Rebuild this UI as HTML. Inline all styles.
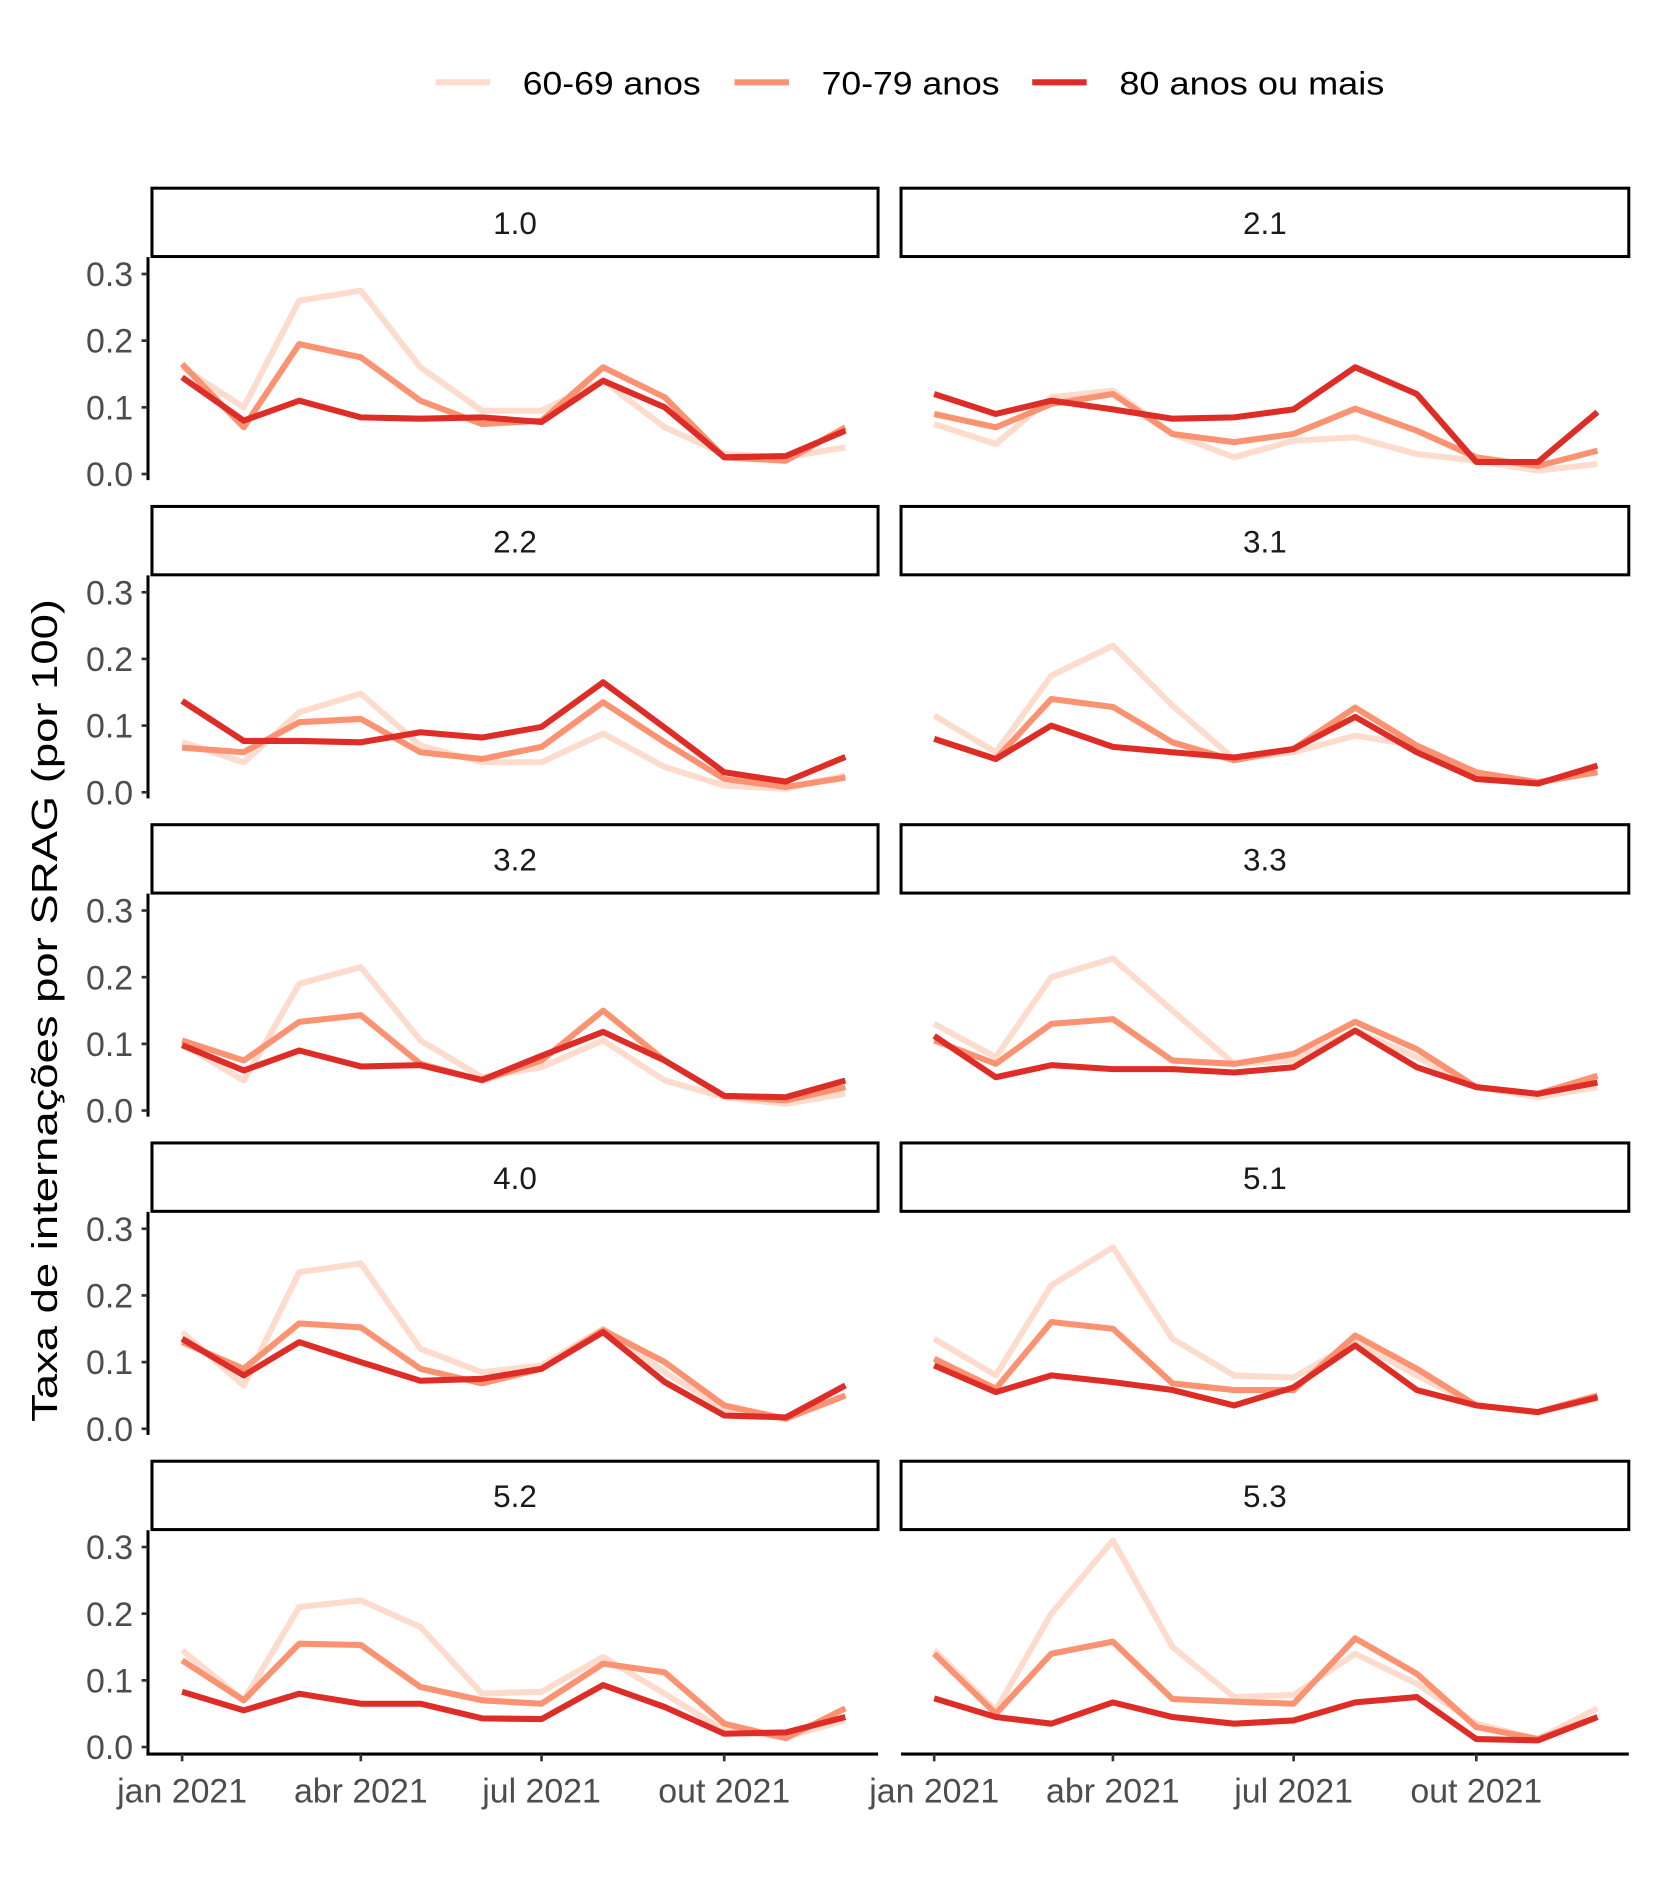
<!DOCTYPE html>
<html><head><meta charset="utf-8"><style>
html,body{margin:0;padding:0;background:#fff}
svg{display:block}
text{font-family:"Liberation Sans",sans-serif}
</style></head><body>
<svg id="chart" width="1653" height="1889" viewBox="0 0 1366 1561" xmlns="http://www.w3.org/2000/svg">
<g>
 <line x1="360" y1="68" x2="405" y2="68" stroke="#fddccd" stroke-width="5"/>
 <text x="432" y="78" font-size="27" textLength="147" lengthAdjust="spacingAndGlyphs" fill="#000">60-69 anos</text>
 <line x1="607" y1="68" x2="652" y2="68" stroke="#fb9272" stroke-width="5"/>
 <text x="679" y="78" font-size="27" textLength="147" lengthAdjust="spacingAndGlyphs" fill="#000">70-79 anos</text>
 <line x1="853" y1="68" x2="898" y2="68" stroke="#de2d26" stroke-width="5"/>
 <text x="925" y="78" font-size="27" textLength="219" lengthAdjust="spacingAndGlyphs" fill="#000">80 anos ou mais</text>
</g>
<text transform="translate(47,835) rotate(-90)" text-anchor="middle" font-size="30" textLength="680" lengthAdjust="spacingAndGlyphs" fill="#000">Taxa de internações por SRAG (por 100)</text>
<g id="panels"></g>
</svg>
<script>
const panelNames=["1.0","2.1","2.2","3.1","3.2","3.3","4.0","5.1","5.2","5.3"];
const monthDays=[0,31,59,90,120,151,181,212,243,273,304,334];
const yTicks=[0,0.1,0.2,0.3];
const yTickLabels=["0.0","0.1","0.2","0.3"];
const xTickDays=[0,90,181,273];
const xTickLabels=["jan 2021","abr 2021","jul 2021","out 2021"];
const seriesNames=["60-69 anos","70-79 anos","80 anos ou mais"];
const s6069=[
[.16,.10,.26,.275,.16,.095,.095,.14,.07,.03,.025,.04],
[.075,.045,.115,.125,.06,.025,.05,.055,.03,.02,.005,.015],
[.075,.045,.12,.148,.07,.045,.045,.088,.038,.01,.005,.025],
[.115,.06,.175,.22,.13,.05,.06,.085,.07,.025,.015,.03],
[.10,.045,.19,.215,.105,.05,.065,.105,.045,.02,.01,.025],
[.13,.08,.20,.228,.15,.07,.075,.12,.08,.035,.02,.035],
[.145,.065,.235,.248,.12,.085,.095,.15,.085,.03,.015,.05],
[.135,.08,.215,.272,.135,.08,.077,.13,.08,.035,.025,.045],
[.145,.07,.21,.22,.18,.08,.083,.135,.08,.025,.015,.04],
[.145,.055,.20,.31,.15,.075,.078,.14,.095,.035,.012,.058]];
const s7079=[
[.165,.07,.195,.175,.11,.075,.08,.16,.115,.025,.02,.07],
[.09,.07,.105,.12,.06,.048,.06,.098,.065,.025,.012,.035],
[.067,.06,.105,.11,.06,.05,.068,.135,.075,.02,.008,.022],
[.08,.05,.14,.128,.075,.048,.065,.127,.07,.03,.015,.03],
[.105,.075,.133,.143,.07,.045,.075,.15,.075,.022,.015,.035],
[.105,.07,.13,.137,.075,.07,.085,.133,.092,.035,.025,.052],
[.13,.09,.158,.152,.09,.068,.09,.148,.10,.035,.015,.05],
[.105,.06,.16,.15,.068,.058,.058,.14,.09,.035,.025,.05],
[.13,.07,.155,.153,.09,.07,.065,.125,.112,.035,.013,.058],
[.14,.05,.14,.158,.072,.068,.065,.163,.11,.03,.012,.045]];
const s80=[
[.145,.08,.11,.085,.083,.085,.078,.14,.10,.025,.027,.065],
[.12,.09,.11,.097,.083,.085,.097,.16,.12,.018,.018,.093],
[.137,.077,.077,.075,.09,.082,.098,.165,.097,.03,.016,.053],
[.08,.05,.10,.068,.06,.052,.065,.113,.06,.02,.013,.04],
[.098,.06,.09,.066,.068,.046,.082,.118,.075,.022,.02,.045],
[.112,.05,.068,.062,.062,.057,.065,.12,.065,.035,.025,.042],
[.135,.08,.13,.10,.072,.075,.09,.145,.07,.02,.017,.065],
[.095,.055,.08,.07,.058,.035,.062,.125,.058,.035,.025,.047],
[.083,.055,.08,.065,.065,.043,.042,.093,.06,.02,.022,.045],
[.073,.045,.035,.067,.045,.035,.04,.067,.075,.012,.01,.045]];
const colors=["#fddccd","#fb9272","#de2d26"];
const NS="http://www.w3.org/2000/svg";
const root=document.getElementById("panels");
function mk(tag,attrs,parent){const e=document.createElementNS(NS,tag);for(const k in attrs)e.setAttribute(k,attrs[k]);parent.appendChild(e);return e;}
const pxPerDay=1.641;
function xScale(col,day){return (col===0?150.5:772)+day*pxPerDay;}
function yScale(row,v){return 391.7+row*263-v*551;}
panelNames.forEach((name,i)=>{
 const row=Math.floor(i/2),col=i%2;
 const left=col===0?125.6:744.6, right=col===0?725.6:1346;
 const top=155.5+row*263;
 const g=mk("g",{},root);
 
 
 const strip=mk("rect",{x:left,y:top,width:right-left,height:56.5,fill:"#fff",stroke:"#000","stroke-width":2.5},g);
 
 
 const st=mk("text",{x:(left+right)/2,y:top+38,"text-anchor":"middle","font-size":26,fill:"#1a1a1a"},g);
 st.textContent=name;
 
 
 const bottom=yScale(row,0)+5;
 if(col===0){
  const ax=mk("line",{x1:122.3,y1:top+57,x2:122.3,y2:row===4?1450.7:bottom,stroke:"#000","stroke-width":2.5},g);
  
  
  yTicks.forEach((t,k)=>{
   const y=yScale(row,t);
   mk("line",{x1:117,y1:y,x2:122,y2:y,stroke:"#333","stroke-width":2.2},g);
   const tl=mk("text",{x:110,y:y+10,"text-anchor":"end","font-size":28,fill:"#4d4d4d"},g);
   tl.textContent=yTickLabels[k];
   
   
  });
 }
 if(row===4){
  const ay=1449.5;
  const xl=mk("line",{x1:col===0?121:left,y1:ay,x2:right,y2:ay,stroke:"#000","stroke-width":2.5},g);
  
  
  xTickDays.forEach((d,k)=>{
   const x=xScale(col,d);
   mk("line",{x1:x,y1:ay,x2:x,y2:ay+6,stroke:"#333","stroke-width":2.2},g);
   const tl=mk("text",{x:x,y:ay+40,"text-anchor":"middle","font-size":28,fill:"#4d4d4d"},g);
   tl.textContent=xTickLabels[k];
   
   
  });
 }
 [s6069[i],s7079[i],s80[i]].forEach((vals,si)=>{
  const pts=vals.map((v,m)=>xScale(col,monthDays[m]).toFixed(1)+","+yScale(row,v).toFixed(1)).join(" ");
  const pl=mk("polyline",{points:pts,fill:"none",stroke:colors[si],"stroke-width":5,"stroke-linejoin":"round"},g);
  
  
 });
});
</script>
</body></html>
